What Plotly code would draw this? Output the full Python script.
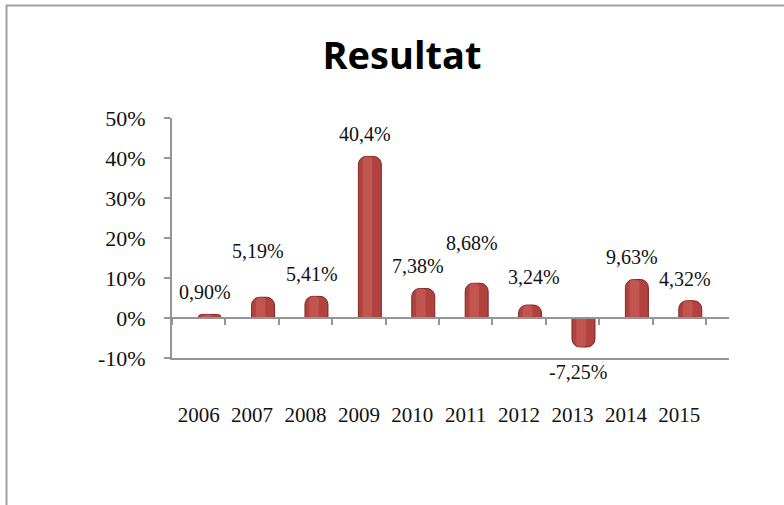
import plotly.graph_objects as go

# ---- data ----
years = ["2006", "2007", "2008", "2009", "2010", "2011", "2012", "2013", "2014", "2015"]
results = [0.90, 5.19, 5.41, 40.4, 7.38, 8.68, 3.24, -7.25, 9.63, 4.32]
result_labels = ["0,90%", "5,19%", "5,41%", "40,4%", "7,38%", "8,68%", "3,24%", "-7,25%", "9,63%", "4,32%"]
y_ticks = [-10, 0, 10, 20, 30, 40, 50]
y_tick_labels = ["-10%", "0%", "10%", "20%", "30%", "40%", "50%"]
title_text = "Resultat"

# ---- styles / layout ----
W, H = 784, 505
ML, MR, MT, MB = 172, 55, 118, 147
PW, PH = W - ML - MR, H - MT - MB
AXIS_COL = "#959595"
SERIF = "Liberation Serif"
BAR_COL = "#B1423E"
BAR_EDGE = "#7E2522"
HILITE_COL = "#D2685F"
label_xshift = [6, 6, 6, 6, 6, 6, 15, 5, 6, 6]
label_yshift = [22, 46, 22, 22, 22, 40, 28, -25, 22, 22]

fig = go.Figure()

fig.add_trace(go.Bar(
    x=years, y=results, width=0.43, offset=-0.01,
    marker=dict(color=BAR_COL, line=dict(color=BAR_EDGE, width=1), cornerradius=8),
    hoverinfo="skip", showlegend=False,
))
fig.add_trace(go.Bar(
    x=years, y=results, width=0.18, offset=0.07,
    marker=dict(color=HILITE_COL, line=dict(width=0), cornerradius=5, opacity=0.5),
    hoverinfo="skip", showlegend=False,
))
# invisible trace to carry the zero-line axis (with boundary ticks)
fig.add_trace(go.Scatter(
    x=years, y=results, xaxis="x2", mode="markers",
    marker=dict(opacity=0), hoverinfo="skip", showlegend=False,
))

for i, (v, t, dx, dy) in enumerate(zip(results, result_labels, label_xshift, label_yshift)):
    fig.add_annotation(
        x=i, y=v, xref="x", yref="y", text=t, showarrow=False, xshift=dx, yshift=dy,
        xanchor="center", yanchor="middle",
        font=dict(family=SERIF, size=20, color="#111111"),
    )

ymin, ymax = -10, 50
fig.update_layout(
    width=W, height=H,
    margin=dict(l=ML, r=MR, t=MT, b=MB, pad=0),
    paper_bgcolor="white", plot_bgcolor="white",
    barmode="overlay",
    hovermode=False,
    title=dict(
        text=title_text, x=402 / W, xref="container", xanchor="center",
        y=1 - 56 / H, yref="container", yanchor="middle",
        font=dict(family="Open Sans", size=38, color="#000000", weight="bold"),
    ),
    xaxis=dict(
        type="category", range=[-0.5, 9.93],
        showline=True, linecolor=AXIS_COL, linewidth=2,
        ticks="", showgrid=False, zeroline=False,
        tickfont=dict(family=SERIF, size=21, color="#111111"),
        ticklabelstandoff=37,
    ),
    xaxis2=dict(
        type="category", overlaying="x", anchor="free", matches="x",
        position=(0 - ymin) / (ymax - ymin),
        showline=True, linecolor=AXIS_COL, linewidth=2,
        ticks="outside", tickson="boundaries", ticklen=6, tickwidth=2, tickcolor=AXIS_COL,
        showticklabels=False, showgrid=False, zeroline=False,
    ),
    yaxis=dict(
        range=[ymin, ymax], tickvals=y_ticks, ticktext=y_tick_labels,
        showline=True, linecolor=AXIS_COL, linewidth=2,
        ticks="outside", ticklen=6, tickwidth=2, tickcolor=AXIS_COL,
        showgrid=False, zeroline=False,
        tickfont=dict(family=SERIF, size=22, color="#111111"),
        ticklabelstandoff=14,
    ),
)

# outer frame (top and left edges visible)
def px_x(px):
    return (px - ML) / PW

def px_y(py):
    return (H - MB - py) / PH

fig.add_shape(type="line", xref="paper", yref="paper",
              x0=px_x(6), x1=px_x(784), y0=px_y(5.5), y1=px_y(5.5),
              line=dict(color="#A0A0A0", width=2))
fig.add_shape(type="line", xref="paper", yref="paper",
              x0=px_x(6.5), x1=px_x(6.5), y0=px_y(5), y1=px_y(505),
              line=dict(color="#A0A0A0", width=2))

fig.write_html("out.html", config={"displayModeBar": False},
               post_script="document.body.style.margin='0';")
